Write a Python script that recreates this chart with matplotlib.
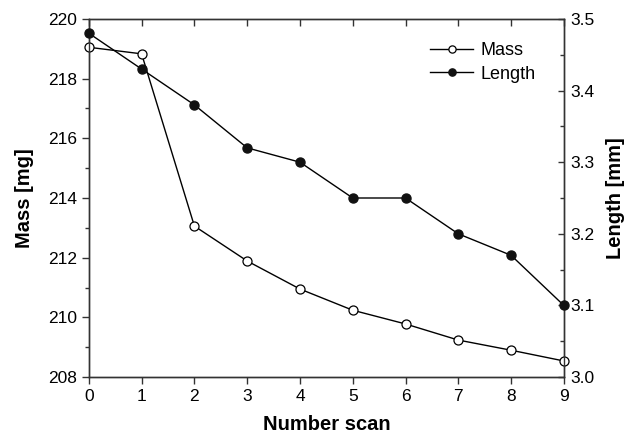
import matplotlib
matplotlib.use("Agg")
import matplotlib.pyplot as plt
from matplotlib.ticker import MultipleLocator

plt.rcParams['font.family'] = ['Liberation Sans', 'DejaVu Sans']

scans = [0, 1, 2, 3, 4, 5, 6, 7, 8, 9]
mass = [219.05, 218.83, 213.06, 211.89, 210.95, 210.24, 209.78, 209.24, 208.90, 208.54]
length = [3.48, 3.43, 3.38, 3.32, 3.30, 3.25, 3.25, 3.20, 3.17, 3.10]

fig = plt.figure(figsize=(6.3, 4.4), dpi=100)
ax = fig.add_axes([0.141, 0.143, 0.754, 0.814])
ax2 = ax.twinx()

spine_c = '#333333'
l1, = ax.plot(scans, mass, color='black', lw=1, marker='o', ms=6.5,
              mfc='white', mec='black', mew=0.9, label='Mass', clip_on=False, zorder=3)
l2, = ax2.plot(scans, length, color='black', lw=1, marker='o', ms=6.5,
               mfc='#111111', mec='#111111', label='Length', clip_on=False, zorder=3)

ax.set_xlim(0, 9)
ax.set_ylim(208, 220)
ax2.set_ylim(3.0, 3.5)

ax.xaxis.set_major_locator(MultipleLocator(1))
ax.yaxis.set_major_locator(MultipleLocator(2))
ax.yaxis.set_minor_locator(MultipleLocator(1))
ax2.yaxis.set_major_locator(MultipleLocator(0.1))
ax2.yaxis.set_minor_locator(MultipleLocator(0.05))
ax2.yaxis.set_major_formatter(matplotlib.ticker.FormatStrFormatter('%.1f'))

ax.tick_params(axis='y', which='major', direction='out', length=5, width=1, labelsize=12.5, color=spine_c)
ax.tick_params(axis='y', which='minor', direction='out', length=3, width=1, color=spine_c)
ax.tick_params(axis='x', which='major', direction='out', length=5, width=1, labelsize=12.5,
               top=True, color=spine_c)
ax2.tick_params(axis='y', which='major', direction='in', length=4, width=1, labelsize=12.5,
                color=spine_c, pad=5)
ax2.tick_params(axis='y', which='minor', direction='in', length=3, width=1, color=spine_c)

# top ticks inward
for t in ax.xaxis.get_major_ticks():
    t.tick2line.set_marker(matplotlib.lines.TICKDOWN)

for a in (ax, ax2):
    for s in a.spines.values():
        s.set_color(spine_c)
        s.set_linewidth(1)

ax.set_xlabel('Number scan', fontsize=14.5, fontweight='bold', labelpad=8)
ax.set_ylabel('Mass [mg]', fontsize=14.5, fontweight='bold', labelpad=10)
ax2.set_ylabel('Length [mm]', fontsize=14.5, fontweight='bold', labelpad=8)

ax2.legend([l1, l2], ['Mass', 'Length'], loc='upper right', frameon=False,
           fontsize=13, bbox_to_anchor=(0.975, 0.98), handlelength=2.4,
           handletextpad=0.4, labelspacing=0.35, markerscale=0.8)

fig.savefig('out.png', dpi=100)
